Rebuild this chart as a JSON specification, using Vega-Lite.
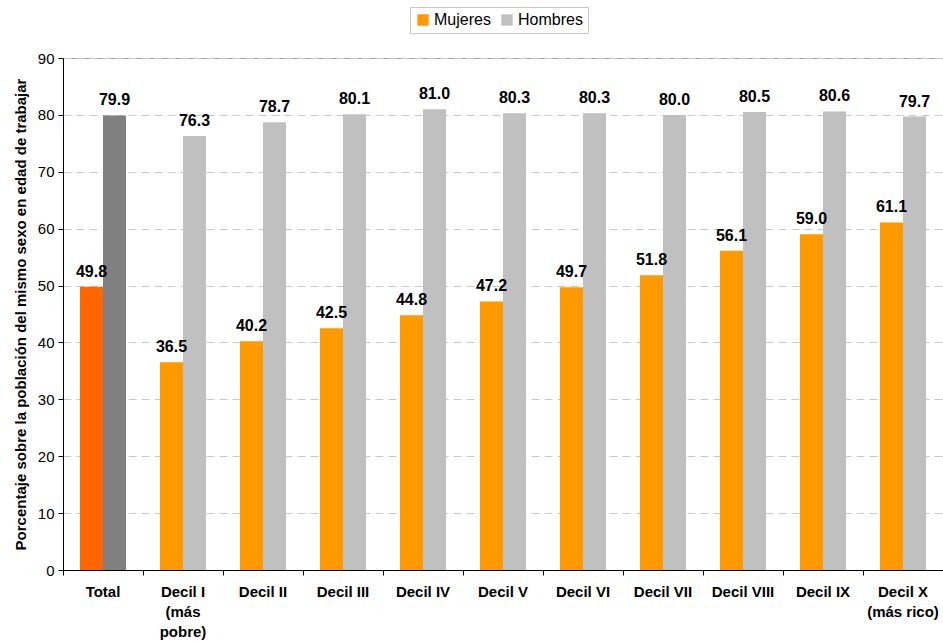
{
  "$schema": "https://vega.github.io/schema/vega-lite/v6.json",
  "width": 880,
  "height": 512,
  "autosize": {"type": "none"},
  "padding": {"left": 63, "top": 58, "right": 0, "bottom": 72},
  "background": "white",
  "config": {
    "font": "Liberation Sans",
    "view": {"stroke": "#a0a0a0", "strokeWidth": 1}
  },
  "data": {
    "values": [
      {"cat": "Total", "sexo": "Mujeres", "grupo": "MujeresT", "valor": 49.8},
      {"cat": "Total", "sexo": "Hombres", "grupo": "HombresT", "valor": 79.9},
      {"cat": "Decil I\n(más\npobre)", "sexo": "Mujeres", "grupo": "Mujeres", "valor": 36.5},
      {"cat": "Decil I\n(más\npobre)", "sexo": "Hombres", "grupo": "Hombres", "valor": 76.3},
      {"cat": "Decil II", "sexo": "Mujeres", "grupo": "Mujeres", "valor": 40.2},
      {"cat": "Decil II", "sexo": "Hombres", "grupo": "Hombres", "valor": 78.7},
      {"cat": "Decil III", "sexo": "Mujeres", "grupo": "Mujeres", "valor": 42.5},
      {"cat": "Decil III", "sexo": "Hombres", "grupo": "Hombres", "valor": 80.1},
      {"cat": "Decil IV", "sexo": "Mujeres", "grupo": "Mujeres", "valor": 44.8},
      {"cat": "Decil IV", "sexo": "Hombres", "grupo": "Hombres", "valor": 81.0},
      {"cat": "Decil V", "sexo": "Mujeres", "grupo": "Mujeres", "valor": 47.2},
      {"cat": "Decil V", "sexo": "Hombres", "grupo": "Hombres", "valor": 80.3},
      {"cat": "Decil VI", "sexo": "Mujeres", "grupo": "Mujeres", "valor": 49.7},
      {"cat": "Decil VI", "sexo": "Hombres", "grupo": "Hombres", "valor": 80.3},
      {"cat": "Decil VII", "sexo": "Mujeres", "grupo": "Mujeres", "valor": 51.8},
      {"cat": "Decil VII", "sexo": "Hombres", "grupo": "Hombres", "valor": 80.0},
      {"cat": "Decil VIII", "sexo": "Mujeres", "grupo": "Mujeres", "valor": 56.1},
      {"cat": "Decil VIII", "sexo": "Hombres", "grupo": "Hombres", "valor": 80.5},
      {"cat": "Decil IX", "sexo": "Mujeres", "grupo": "Mujeres", "valor": 59.0},
      {"cat": "Decil IX", "sexo": "Hombres", "grupo": "Hombres", "valor": 80.6},
      {"cat": "Decil X\n(más rico)", "sexo": "Mujeres", "grupo": "Mujeres", "valor": 61.1},
      {"cat": "Decil X\n(más rico)", "sexo": "Hombres", "grupo": "Hombres", "valor": 79.7}
    ]
  },
  "encoding": {
    "x": {
      "field": "cat",
      "type": "nominal",
      "sort": null,
      "scale": {"paddingInner": 0, "paddingOuter": 0},
      "axis": {
        "title": null,
        "labelAngle": 0,
        "labelExpr": "split(datum.label, '\\n')",
        "labelFont": "Liberation Sans",
        "labelFontSize": 15,
        "labelFontWeight": "bold",
        "labelColor": "black",
        "labelLineHeight": 20,
        "labelPadding": 9,
        "labelBaseline": "top",
        "domainColor": "black",
        "tickColor": "black",
        "tickSize": 5,
        "bandPosition": 0,
        "labelLimit": 0
      }
    },
    "xOffset": {
      "field": "sexo",
      "type": "nominal",
      "sort": ["Mujeres", "Hombres"],
      "scale": {"paddingOuter": 0.74, "paddingInner": 0}
    },
    "y": {
      "field": "valor",
      "type": "quantitative",
      "scale": {"domain": [0, 90], "nice": false},
      "axis": {
        "values": [0, 10, 20, 30, 40, 50, 60, 70, 80, 90],
        "title": "Porcentaje sobre la población del mismo sexo en edad de trabajar",
        "titleFontSize": 15,
        "titleFontWeight": "bold",
        "titleColor": "black",
        "titlePadding": 9,
        "labelFontSize": 15,
        "labelColor": "black",
        "labelPadding": 4,
        "domainColor": "black",
        "tickColor": "black",
        "tickSize": 5,
        "gridColor": "#c8c8c8",
        "gridDash": [8, 5]
      }
    }
  },
  "layer": [
    {
      "mark": {"type": "bar"},
      "encoding": {
        "color": {
          "field": "grupo",
          "type": "nominal",
          "scale": {
            "domain": ["Mujeres", "Hombres", "MujeresT", "HombresT"],
            "range": ["#FF9900", "#C0C0C0", "#FF6600", "#808080"]
          },
          "legend": {
            "values": ["Mujeres", "Hombres"],
            "title": null,
            "orient": "none",
            "direction": "horizontal",
            "legendX": 347,
            "legendY": -51,
            "symbolType": "square",
            "symbolSize": 130,
            "symbolStrokeWidth": 0,
            "labelFontSize": 16,
            "labelColor": "black",
            "labelOffset": 3,
            "columnPadding": 8,
            "strokeColor": "#c8c8c8",
            "padding": 5
          }
        }
      }
    },
    {
      "mark": {"type": "text", "baseline": "alphabetic", "dy": -10, "fontSize": 16, "fontWeight": "bold", "color": "black"},
      "encoding": {
        "text": {"field": "valor", "type": "quantitative", "format": ".1f"}
      }
    }
  ]
}
